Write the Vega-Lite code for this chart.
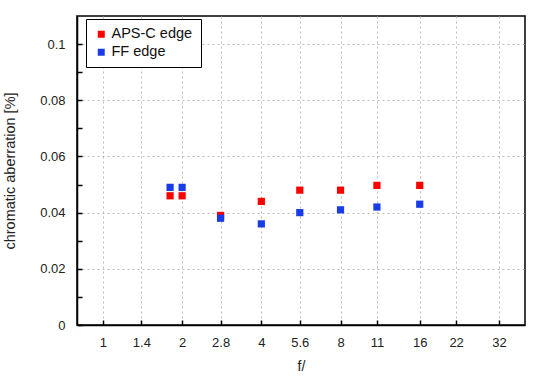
{
  "$schema": "https://vega.github.io/schema/vega-lite/v6.json",
  "width": 448,
  "height": 309,
  "autosize": "none",
  "padding": {"left": 77, "top": 16, "right": 25, "bottom": 55},
  "background": "white",
  "config": {
    "font": "Liberation Sans",
    "view": {"stroke": "black", "strokeWidth": 1.5},
    "axis": {
      "domainColor": "black",
      "domainWidth": 1.5,
      "tickColor": "black",
      "tickWidth": 1.5,
      "tickSize": -5,
      "labelFont": "Liberation Sans",
      "labelFontSize": 13,
      "labelColor": "#222",
      "titleFont": "Liberation Sans",
      "titleFontSize": 14,
      "titleFontWeight": "normal",
      "titleColor": "#222",
      "gridColor": "#bbbbbb",
      "gridDash": [2, 3],
      "gridWidth": 1
    }
  },
  "data": {
    "values": [
      {"f": 1.8, "ca": 0.046, "series": "APS-C edge"},
      {"f": 2, "ca": 0.046, "series": "APS-C edge"},
      {"f": 2.8, "ca": 0.039, "series": "APS-C edge"},
      {"f": 4, "ca": 0.044, "series": "APS-C edge"},
      {"f": 5.6, "ca": 0.048, "series": "APS-C edge"},
      {"f": 8, "ca": 0.048, "series": "APS-C edge"},
      {"f": 11, "ca": 0.0497, "series": "APS-C edge"},
      {"f": 16, "ca": 0.0497, "series": "APS-C edge"},
      {"f": 1.8, "ca": 0.049, "series": "FF edge"},
      {"f": 2, "ca": 0.049, "series": "FF edge"},
      {"f": 2.8, "ca": 0.038, "series": "FF edge"},
      {"f": 4, "ca": 0.036, "series": "FF edge"},
      {"f": 5.6, "ca": 0.040, "series": "FF edge"},
      {"f": 8, "ca": 0.041, "series": "FF edge"},
      {"f": 11, "ca": 0.042, "series": "FF edge"},
      {"f": 16, "ca": 0.043, "series": "FF edge"}
    ]
  },
  "mark": {"type": "point", "shape": "square", "filled": true, "opacity": 1, "size": 52, "strokeWidth": 0},
  "encoding": {
    "x": {
      "field": "f",
      "type": "quantitative",
      "scale": {"type": "log", "base": 2, "domain": [0.797, 40.2], "nice": false},
      "axis": {
        "title": "f/",
        "values": [1, 1.4, 2, 2.8, 4, 5.6, 8, 11, 16, 22, 32],
        "labelExpr": "format(datum.value, '~g')",
        "labelPadding": 16,
        "titlePadding": 10
      }
    },
    "y": {
      "field": "ca",
      "type": "quantitative",
      "scale": {"domain": [0, 0.11], "nice": false, "zero": true},
      "axis": {
        "title": "chromatic aberration [%]",
        "titleFontSize": 14.5,
        "values": [0, 0.01, 0.02, 0.03, 0.04, 0.05, 0.06, 0.07, 0.08, 0.09, 0.1],
        "labelExpr": "round(datum.value * 100) % 2 == 0 ? format(datum.value, '~g') : ''",
        "gridOpacity": {"condition": {"test": "round(datum.value * 100) % 2 == 0 && datum.value > 0", "value": 1}, "value": 0},
        "labelPadding": 17,
        "titlePadding": 22
      }
    },
    "color": {
      "field": "series",
      "type": "nominal",
      "scale": {"domain": ["APS-C edge", "FF edge"], "range": ["#ff0000", "#1a3ce6"]},
      "legend": {
        "title": null,
        "orient": "none",
        "legendX": 9,
        "legendY": 3,
        "padding": 8,
        "strokeColor": "black",
        "fillColor": "white",
        "symbolType": "square",
        "symbolSize": 49,
        "symbolStrokeWidth": 0,
        "symbolOpacity": 1,
        "labelFont": "Liberation Sans",
        "labelFontSize": 14.5,
        "labelColor": "#111",
        "labelOffset": 3,
        "rowPadding": 3
      }
    }
  }
}
